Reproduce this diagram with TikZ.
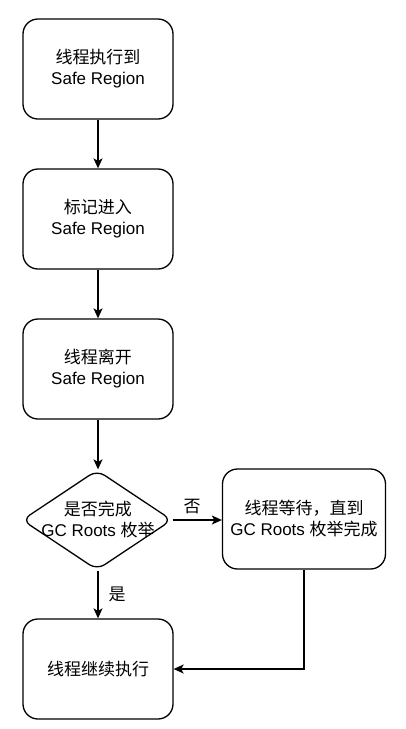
\documentclass[tikz,border=0pt]{standalone}
\usepackage{fontspec}
\setmainfont{Liberation Sans}
\newfontfamily\cjk{Noto Sans CJK SC}
\usetikzlibrary{shapes.geometric,arrows.meta}
\begin{document}
\begin{tikzpicture}[x=1pt,y=-1pt,
  every node/.style={font=\fontsize{17}{21}\selectfont, align=center},
  stepbox/.style={draw, line width=1.3pt, rounded corners=15pt, minimum width=150pt, minimum height=100pt, inner sep=0pt},
  decbox/.style={draw, diamond, line width=1.3pt, rounded corners=9pt, minimum width=150pt, minimum height=100pt, inner sep=0pt},
  conn/.style={line width=1.3pt, -{Stealth[length=10pt,width=9pt,inset=2.5pt]}},
  lbl/.style={inner sep=1pt}]
\useasboundingbox (0,0) rectangle (405,729);
\fill[white] (0,0) rectangle (405,729);
\node[stepbox] (b1) at (98,69) {{\cjk 线程执行到}\\Safe Region};
\node[stepbox] (b2) at (98,219) {{\cjk 标记进入}\\Safe Region};
\node[stepbox] (b3) at (98,369) {{\cjk 线程离开}\\Safe Region};
\node[decbox] (d) at (97,520) {};
\node (dt) at (98,519) {{\cjk 是否完成}\\GC Roots {\cjk 枚举}};
\node[stepbox, minimum width=163pt] (r) at (304,519) {{\cjk 线程等待，直到}\\GC Roots {\cjk 枚举完成}};
\node[stepbox] (b5) at (98,669) {{\cjk 线程继续执行}};
\draw[conn] (b1) -- (b2);
\draw[conn] (b2) -- (b3);
\draw[conn] (b3.south) -- (b3.south |- d.north);
\draw[conn] (d.east) -- (d.east -| r.west);
\draw[conn] (d.south -| b5.north) -- (b5.north);
\draw[conn] (r.south) |- (b5.east);
\node[lbl] (no) at (192,507) {\cjk 否};
\node[lbl] (yes) at (117,594) {\cjk 是};
\end{tikzpicture}
\end{document}
